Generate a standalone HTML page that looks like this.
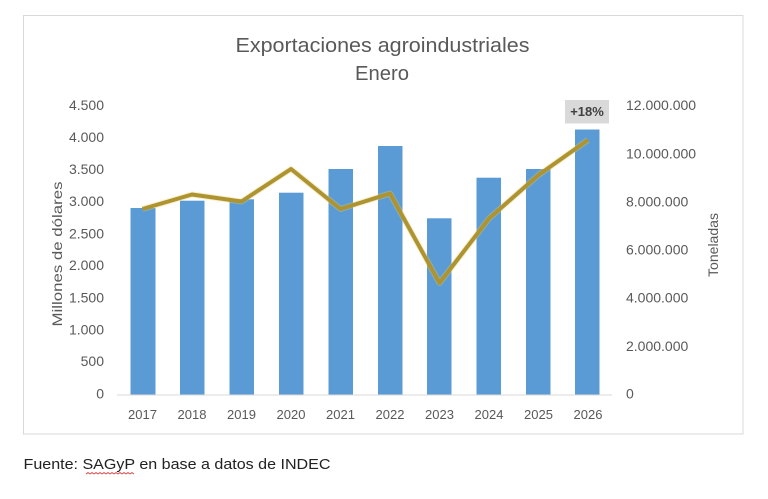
<!DOCTYPE html>
<html><head><meta charset="utf-8"><style>
html,body{margin:0;padding:0;background:#fff;}
svg{display:block;}
text{font-family:"Liberation Sans",sans-serif;}
</style></head><body>
<svg width="768" height="499" viewBox="0 0 768 499" xmlns="http://www.w3.org/2000/svg">
<rect x="0" y="0" width="768" height="499" fill="#fff"/>
<rect x="23.5" y="15.5" width="719.5" height="418.5" fill="#fff" stroke="#d9d9d9" stroke-width="1"/>
<text x="382.5" y="52" font-size="20" fill="#595959" text-anchor="middle" textLength="294" lengthAdjust="spacingAndGlyphs">Exportaciones agroindustriales</text>
<text x="382" y="80" font-size="20" fill="#595959" text-anchor="middle" textLength="54" lengthAdjust="spacingAndGlyphs">Enero</text>
<g font-size="14" fill="#595959" text-anchor="end">
<text x="104" y="110">4.500</text>
<text x="104" y="142">4.000</text>
<text x="104" y="174">3.500</text>
<text x="104" y="206">3.000</text>
<text x="104" y="238.5">2.500</text>
<text x="104" y="270">2.000</text>
<text x="104" y="302.5">1.500</text>
<text x="104" y="334.5">1.000</text>
<text x="104" y="366">500</text>
<text x="104" y="398.5">0</text>
</g>
<g font-size="14" fill="#595959" text-anchor="start">
<text x="626" y="110">12.000.000</text>
<text x="626" y="158.5">10.000.000</text>
<text x="626" y="206.5">8.000.000</text>
<text x="626" y="254.5">6.000.000</text>
<text x="626" y="302.5">4.000.000</text>
<text x="626" y="351">2.000.000</text>
<text x="626" y="398.5">0</text>
</g>
<text transform="translate(62,254) rotate(-90)" font-size="14" fill="#595959" text-anchor="middle" textLength="145" lengthAdjust="spacingAndGlyphs">Millones  de dólares</text>
<text transform="translate(718,245) rotate(-90)" font-size="14" fill="#595959" text-anchor="middle" textLength="64" lengthAdjust="spacingAndGlyphs">Toneladas</text>
<line x1="117" y1="395" x2="612" y2="395" stroke="#d9d9d9" stroke-width="1"/>
<g fill="#5b9bd5">
<rect x="130.5" y="208" width="25" height="186.5"/>
<rect x="180" y="200.7" width="24.5" height="193.8"/>
<rect x="229.5" y="199.3" width="24.5" height="195.2"/>
<rect x="279" y="192.7" width="24.5" height="201.8"/>
<rect x="328.5" y="169" width="24.5" height="225.5"/>
<rect x="378" y="146" width="24.5" height="248.5"/>
<rect x="427" y="218.3" width="24.5" height="176.2"/>
<rect x="476.5" y="177.7" width="24.5" height="216.8"/>
<rect x="526" y="169" width="24.5" height="225.5"/>
<rect x="575" y="129.5" width="24.5" height="265"/>
</g>
<polyline points="142.5,209 192,194.5 241.5,201.5 291,169 340.5,209 390,193.5 439.5,283 489,218.5 538.5,175 588,140" fill="none" stroke="#e8cf6a" stroke-opacity="0.35" stroke-width="6" stroke-linejoin="round"/>
<polyline points="142.5,209 192,194.5 241.5,201.5 291,169 340.5,209 390,193.5 439.5,283 489,218.5 538.5,175 588,140" fill="none" stroke="#ad9431" stroke-width="4" stroke-linejoin="round"/>
<rect x="565" y="100" width="44" height="23.5" fill="#d9d9d9"/>
<text x="587" y="116" font-size="13" font-weight="bold" fill="#404040" text-anchor="middle">+18%</text>
<g font-size="13" fill="#595959" text-anchor="middle">
<text x="142.5" y="419">2017</text>
<text x="192" y="419">2018</text>
<text x="241.5" y="419">2019</text>
<text x="291" y="419">2020</text>
<text x="340.5" y="419">2021</text>
<text x="390" y="419">2022</text>
<text x="439.5" y="419">2023</text>
<text x="489" y="419">2024</text>
<text x="538.5" y="419">2025</text>
<text x="588" y="419">2026</text>
</g>
<text x="23.5" y="469" font-size="15" fill="#222" textLength="307" lengthAdjust="spacingAndGlyphs">Fuente: SAGyP en base a datos de INDEC</text>
<path d="M86,474 l2,-1.5 l2,1.5 l2,-1.5 l2,1.5 l2,-1.5 l2,1.5 l2,-1.5 l2,1.5 l2,-1.5 l2,1.5 l2,-1.5 l2,1.5 l2,-1.5 l2,1.5 l2,-1.5 l2,1.5 l2,-1.5 l2,1.5 l2,-1.5 l2,1.5 l2,-1.5 l2,1.5 l2,-1.5 l2,1.5" fill="none" stroke="#e04040" stroke-width="0.8"/>
</svg>
</body></html>
